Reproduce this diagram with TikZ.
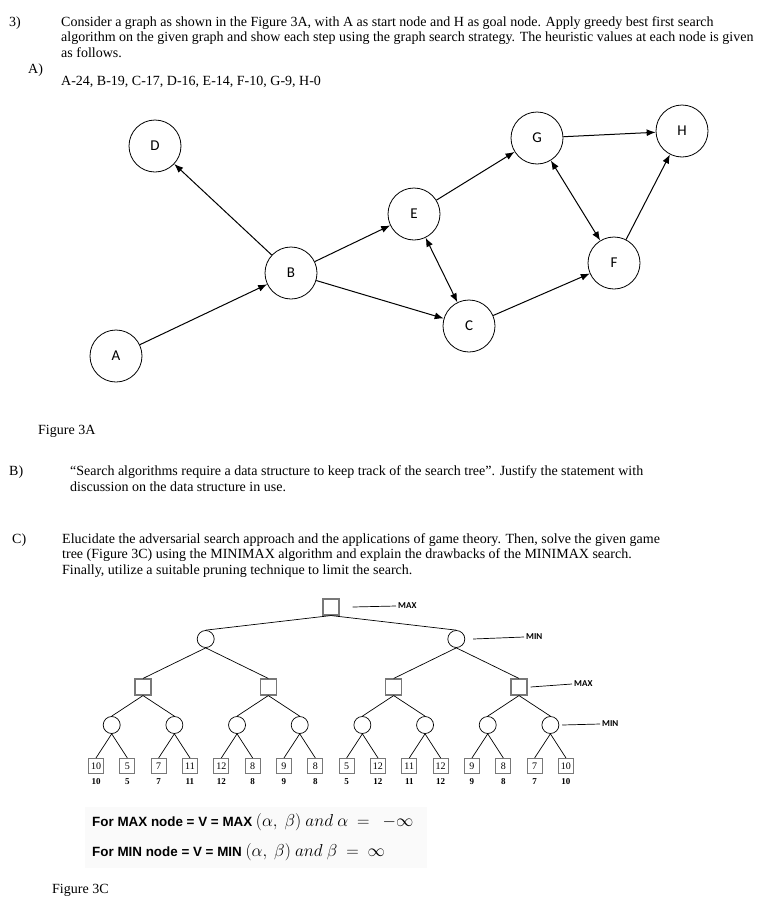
\documentclass[tikz,border=0pt]{standalone}
\usepackage{amsmath,amssymb}
\usepackage{fontspec}
\setmainfont{Liberation Serif}
\newfontfamily\lblfont{Carlito}
\newfontfamily\formfont{Liberation Sans}
\usepackage{tikz}
\usetikzlibrary{arrows.meta, positioning}
\definecolor{boxgray}{RGB}{120, 120, 120}
\definecolor{panelgray}{RGB}{250, 250, 250}

\begin{document}
\begin{tikzpicture}[
    x=1pt, y=-1pt,
    txt/.style={anchor=base west, inner sep=0pt, font=\fontsize{14}{16}\selectfont},
    gnode/.style={circle, draw, line width=0.8pt, minimum size=52pt, inner sep=0pt, font=\lblfont\fontsize{15}{15}\selectfont},
    arrow/.style={-{Latex[length=9pt, width=7pt]}, line width=1pt},
    biarrow/.style={{Latex[length=9pt, width=7pt]}-{Latex[length=9pt, width=7pt]}, line width=1pt},
    maxbox/.style={rectangle, draw=boxgray, line width=1.1pt, minimum size=16pt, inner sep=0pt},
    minnode/.style={circle, draw, line width=0.7pt, minimum size=17pt, inner sep=0pt},
    leaf/.style={rectangle, draw=boxgray, line width=1.1pt, minimum size=15pt, inner sep=0pt, font=\fontsize{10}{10}\selectfont},
    leafval/.style={font=\bfseries\fontsize{9}{9}\selectfont, inner sep=0pt},
    edge/.style={line width=0.7pt},
    tag/.style={anchor=west, font=\lblfont\bfseries\fontsize{9}{9}\selectfont, inner sep=2pt},
    formula/.style={anchor=base west, inner sep=0pt, font=\formfont\bfseries\fontsize{13.4}{15}\selectfont}
]
\useasboundingbox (0,0) rectangle (757,921);

% Question text
\node[txt] (q3) at (9,26) {3)};
\node[txt] (qa1) at (61,26) {Consider a graph as shown in the Figure 3A, with A as start node and H as goal node. Apply greedy best first search};
\node[txt] (qa2) at (61,41.5) {algorithm on the given graph and show each step using the graph search strategy. The heuristic values at each node is given};
\node[txt] (qa3) at (61,57) {as follows.};
\node[txt] (pa) at (28,73) {A)};
\node[txt] (heur) at (61,85) {A-24, B-19, C-17, D-16, E-14, F-10, G-9, H-0};

% Graph nodes
\node[gnode] (A) at (116,356) {A};
\node[gnode] (B) at (291,273) {B};
\node[gnode] (D) at (155,146) {D};
\node[gnode] (E) at (414,214) {E};
\node[gnode] (C) at (469,326) {C};
\node[gnode] (G) at (537,138) {G};
\node[gnode] (F) at (614,263) {F};
\node[gnode] (H) at (682,131) {H};

% Graph edges
\draw[arrow] (A) -- (B);
\draw[arrow] (B) -- (D);
\draw[arrow] (B) -- (E);
\draw[arrow] (B) -- (C);
\draw[biarrow] (E) -- (C);
\draw[arrow] (E) -- (G);
\draw[arrow] (G) -- (H);
\draw[biarrow] (G) -- (F);
\draw[arrow] (C) -- (F);
\draw[arrow] (F) -- (H);

\node[txt] (fig3a) at (38,434) {Figure 3A};

% Part B and C
\node[txt] (pb) at (9,475) {B)};
\node[txt] (qb1) at (70,475) {``Search algorithms require a data structure to keep track of the search tree''. Justify the statement with};
\node[txt] (qb2) at (70,491) {discussion on the data structure in use.};
\node[txt] (pc) at (12,543) {C)};
\node[txt] (qc1) at (62,543) {Elucidate the adversarial search approach and the applications of game theory. Then, solve the given game};
\node[txt] (qc2) at (62,558.5) {tree (Figure 3C) using the MINIMAX algorithm and explain the drawbacks of the MINIMAX search.};
\node[txt] (qc3) at (62,574) {Finally, utilize a suitable pruning technique to limit the search.};

% Game tree
\node[maxbox] (r) at (331,607) {};
\node[minnode] (n1) at (205.7,639) {};
\node[minnode] (n2) at (456.3,639) {};
\foreach \i/\x in {1/143, 2/268.3, 3/393.7, 4/519}
    \node[maxbox] (m\i) at (\x,687) {};
\foreach \i in {1,...,8}
    \node[minnode] (c\i) at ({111.7+62.67*(\i-1)},725) {};
\foreach \v [count=\i] in {10,5,7,11,12,8,9,8,5,12,11,12,9,8,7,10} {
    \node[leaf] (l\i) at ({96+31.33*(\i-1)},766) {\v};
    \node[leafval, below=4pt of l\i] (v\i) {\v};
}

\draw[edge] (r.south) -- (n1.north);
\draw[edge] (r.south) -- (n2.north);
\foreach \p/\c in {n1/m1, n1/m2, n2/m3, n2/m4}
    \draw[edge] (\p.south) -- (\c.north);
\foreach \i in {1,...,4} {
    \pgfmathtruncatemacro\ca{2*\i-1}
    \pgfmathtruncatemacro\cb{2*\i}
    \draw[edge] (m\i.south) -- (c\ca.north);
    \draw[edge] (m\i.south) -- (c\cb.north);
}
\foreach \i in {1,...,8} {
    \pgfmathtruncatemacro\la{2*\i-1}
    \pgfmathtruncatemacro\lb{2*\i}
    \draw[edge] (c\i.south) -- (l\la.north);
    \draw[edge] (c\i.south) -- (l\lb.north);
}

% Level tags
\node[tag] (t1) at (396,606) {MAX};
\node[tag] (t2) at (524,637) {MIN};
\node[tag] (t3) at (572,684) {MAX};
\node[tag] (t4) at (600,724) {MIN};
\draw[edge] ([xshift=13pt]r.east) -- (t1.west);
\draw[edge] ([xshift=8pt]n2.east) -- (t2.west);
\draw[edge] ([xshift=3pt]m4.east) -- (t3.west);
\draw[edge] ([xshift=3pt]c8.east) -- (t4.west);

% Formulas
\fill[panelgray] (85,807) rectangle (427,868);
\node[formula] (fmax) at (92,826)
    {For MAX node = V = MAX \normalfont\fontsize{16.5}{17}\selectfont$(\alpha,\ \beta)\ and\ \alpha\ =\ \ -\infty$};
\node[formula] (fmin) at (92,856)
    {For MIN node = V = MIN \normalfont\fontsize{16.5}{17}\selectfont$(\alpha,\ \beta)\ and\ \beta\ =\ \infty$};

\node[txt] (fig3c) at (52,893) {Figure 3C};
\end{tikzpicture}
\end{document}
